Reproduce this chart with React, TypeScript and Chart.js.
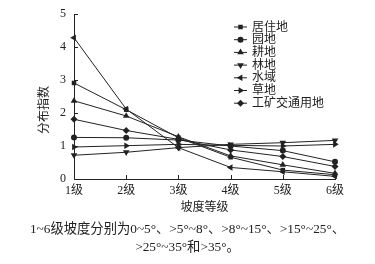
import React, { useEffect, useRef } from "react";
import { Chart, registerables } from "chart.js";
import { drawPoint } from "chart.js/helpers";

Chart.register(...registerables);

const categories = ["1级", "2级", "3级", "4级", "5级", "6级"];
const seriesNames = ["居住地", "园地", "耕地", "林地", "水域", "草地", "工矿交通用地"];
const juzhudi = [2.91, 2.1, 1.25, 0.66, 0.27, 0.13];
const yuandi = [1.26, 1.25, 1.18, 1.0, 0.86, 0.52];
const gengdi = [2.37, 1.91, 1.28, 0.7, 0.43, 0.17];
const lindi = [0.72, 0.81, 0.95, 1.05, 1.1, 1.17];
const shuiyu = [4.28, 2.12, 0.95, 0.35, 0.22, 0.08];
const caodi = [0.97, 1.01, 1.05, 1.02, 1.0, 1.05];
const gongkuang = [1.81, 1.47, 1.2, 0.88, 0.68, 0.38];
const yTicks = [0, 1, 2, 3, 4, 5];
const xTitle = "坡度等级";
const yTitle = "分布指数";
const caption = [
  "1~6级坡度分别为0~5°、>5°~8°、>8°~15°、>15°~25°、",
  ">25°~35°和>35°。",
];

const seriesData = [juzhudi, yuandi, gengdi, lindi, shuiyu, caodi, gongkuang];
const markers: { style: any; rotation: number; radius: number }[] = [
  { style: "rect", rotation: 0, radius: 3.2 },
  { style: "circle", rotation: 0, radius: 3 },
  { style: "triangle", rotation: 0, radius: 3.8 },
  { style: "triangle", rotation: 180, radius: 3.8 },
  { style: "triangle", rotation: 270, radius: 3.8 },
  { style: "triangle", rotation: 90, radius: 3.8 },
  { style: "rectRot", rotation: 0, radius: 3.5 },
];

const INK = "#222";
const FONT = "'Liberation Serif', 'Noto Sans CJK SC', serif";

const extrasPlugin = {
  id: "extras",
  afterDraw(chart: any) {
    const { ctx, chartArea, scales } = chart;
    const xs = scales.x;
    const ys = scales.y;
    ctx.save();
    ctx.strokeStyle = INK;
    ctx.lineWidth = 1;
    // inward ticks
    ctx.beginPath();
    categories.forEach((_, i) => {
      const x = Math.round(xs.getPixelForValue(i)) + 0.5;
      ctx.moveTo(x, chartArea.bottom);
      ctx.lineTo(x, chartArea.bottom - 4);
    });
    yTicks.forEach((v) => {
      const y = Math.round(ys.getPixelForValue(v)) + 0.5;
      ctx.moveTo(chartArea.left, y);
      ctx.lineTo(chartArea.left + 4, y);
    });
    ctx.stroke();

    // y title
    ctx.fillStyle = INK;
    ctx.font = `12px ${FONT}`;
    ctx.textAlign = "center";
    ctx.textBaseline = "middle";
    ctx.save();
    ctx.translate(45, 110);
    ctx.rotate(-Math.PI / 2);
    ctx.fillText(yTitle, 0, 0);
    ctx.restore();

    // legend
    const lx0 = 234;
    const lx1 = 247;
    const ly0 = 27;
    const step = 12.7;
    ctx.font = `12px ${FONT}`;
    ctx.textAlign = "left";
    seriesNames.forEach((name, i) => {
      const y = ly0 + i * step;
      ctx.strokeStyle = INK;
      ctx.lineWidth = 1;
      ctx.beginPath();
      ctx.moveTo(lx0, y);
      ctx.lineTo(lx1, y);
      ctx.stroke();
      ctx.fillStyle = INK;
      drawPoint(
        ctx,
        {
          pointStyle: markers[i].style,
          rotation: markers[i].rotation,
          radius: markers[i].radius,
          borderWidth: 0,
        } as any,
        (lx0 + lx1) / 2,
        y
      );
      ctx.fillStyle = INK;
      ctx.fillText(name, 252, y + 0.5);
    });
    ctx.restore();
  },
};

export default function App() {
  const ref = useRef<HTMLCanvasElement>(null);
  useEffect(() => {
    if (!ref.current) return;
    const chart = new Chart(ref.current, {
      type: "line",
      data: {
        labels: categories,
        datasets: seriesNames.map((name, i) => ({
          label: name,
          data: seriesData[i],
          borderColor: INK,
          backgroundColor: INK,
          borderWidth: 1,
          pointStyle: markers[i].style,
          pointRotation: markers[i].rotation,
          pointRadius: markers[i].radius,
          pointBorderWidth: 0,
          pointBackgroundColor: INK,
          tension: 0,
          fill: false,
        })),
      },
      options: {
        responsive: false,
        animation: false,
        events: [],
        layout: { padding: { left: 0, right: 0, top: 14, bottom: 0 } },
        plugins: {
          legend: { display: false },
          tooltip: { enabled: false },
          title: {
            display: true,
            position: "bottom",
            text: caption,
            color: INK,
            font: { family: FONT, size: 13.3, weight: "normal", lineHeight: "18px" },
            padding: { top: 6, bottom: 7 },
          },
        },
        scales: {
          x: {
            offset: false,
            grid: { display: false, drawTicks: false },
            border: { display: true, color: INK, width: 1 },
            ticks: {
              color: INK,
              font: { family: FONT, size: 12 },
              padding: 5,
              maxRotation: 0,
              autoSkip: false,
            },
            title: {
              display: true,
              text: xTitle,
              color: INK,
              font: { family: FONT, size: 12 },
              padding: { top: 0, bottom: 0 },
            },
            afterFit(scale: any) {
              scale.height = 36;
              scale.paddingLeft = 0;
              scale.paddingRight = 40;
            },
          },
          y: {
            min: 0,
            max: 5,
            grid: { display: false, drawTicks: false },
            border: { display: true, color: INK, width: 1 },
            ticks: {
              stepSize: 1,
              color: INK,
              font: { family: FONT, size: 12 },
              padding: 8,
            },
            afterFit(scale: any) {
              scale.width = 74;
              scale.paddingTop = 0;
              scale.paddingBottom = 0;
            },
          },
        },
      },
      plugins: [extrasPlugin],
    });
    return () => chart.destroy();
  }, []);
  return (
    <div style={{ position: "fixed", left: 0, top: 0, width: 375, height: 264, background: "#fff" }}>
      <canvas ref={ref} width={375} height={264} style={{ width: 375, height: 264 }} />
    </div>
  );
}
